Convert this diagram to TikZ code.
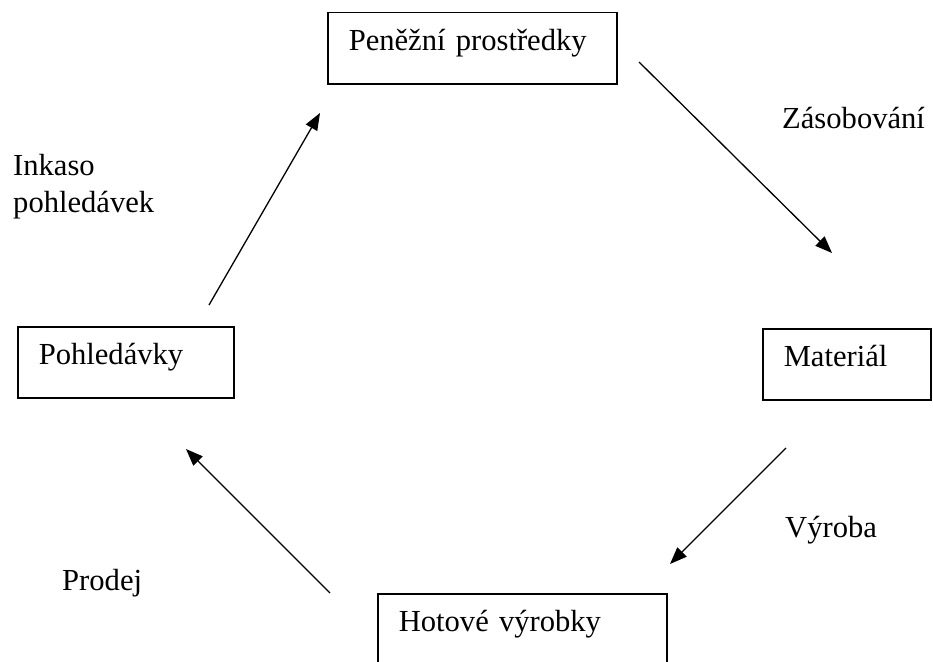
\documentclass[tikz,border=0pt]{standalone}
\usepackage{fontspec}
\setmainfont{Liberation Serif}
\usetikzlibrary{arrows.meta,positioning,calc}
\tikzset{
  stock/.style={draw=black, line width=1.5pt, inner sep=0pt, inner xsep=21pt,
                text height=38pt, text depth=33pt, align=left, anchor=north west},
  flowarr/.style={-{Triangle[length=17pt,width=13pt]}, line width=1.3pt},
  flowlbl/.style={inner sep=0pt, anchor=base west, align=left},
}
\begin{document}
\begin{tikzpicture}[x=1pt,y=-1pt,font=\fontsize{30.6}{37}\selectfont]
  \useasboundingbox (0,0) rectangle (933,661);
  % stocks of the cycle
  \node[stock, text width=247pt] (pen) at (327,12)  {Peněžní prostředky};
  \node[stock, text width=126pt] (mat) at (762,328) {Materiál};
  \node[stock, text width=174pt] (poh) at (17,326)  {Pohledávky};
  \node[stock, text width=247pt] (hot) at (377,593) {Hotové výrobky};
  % flow labels (base = last line)
  \node[flowlbl] (zas) at (782,128) {Zásobování};
  \node[flowlbl] (ink) at (13,212)  {Inkaso\\pohledávek};
  \node[flowlbl] (vyr) at (785,537) {Výroba};
  \node[flowlbl] (pro) at (62,590)  {Prodej};
  % arrow ends
  \coordinate (zasS) at (639,62);  \coordinate (zasE) at (832,253);
  \coordinate (vyrS) at (786,448); \coordinate (vyrE) at (670,564);
  \coordinate (proS) at (330,593); \coordinate (proE) at (186,449);
  \coordinate (inkS) at (209,305); \coordinate (inkE) at (320,113);
  \draw[flowarr] (zasS) -- (zasE);
  \draw[flowarr] (vyrS) -- (vyrE);
  \draw[flowarr] (proS) -- (proE);
  \draw[flowarr] (inkS) -- (inkE);
\end{tikzpicture}
\end{document}
